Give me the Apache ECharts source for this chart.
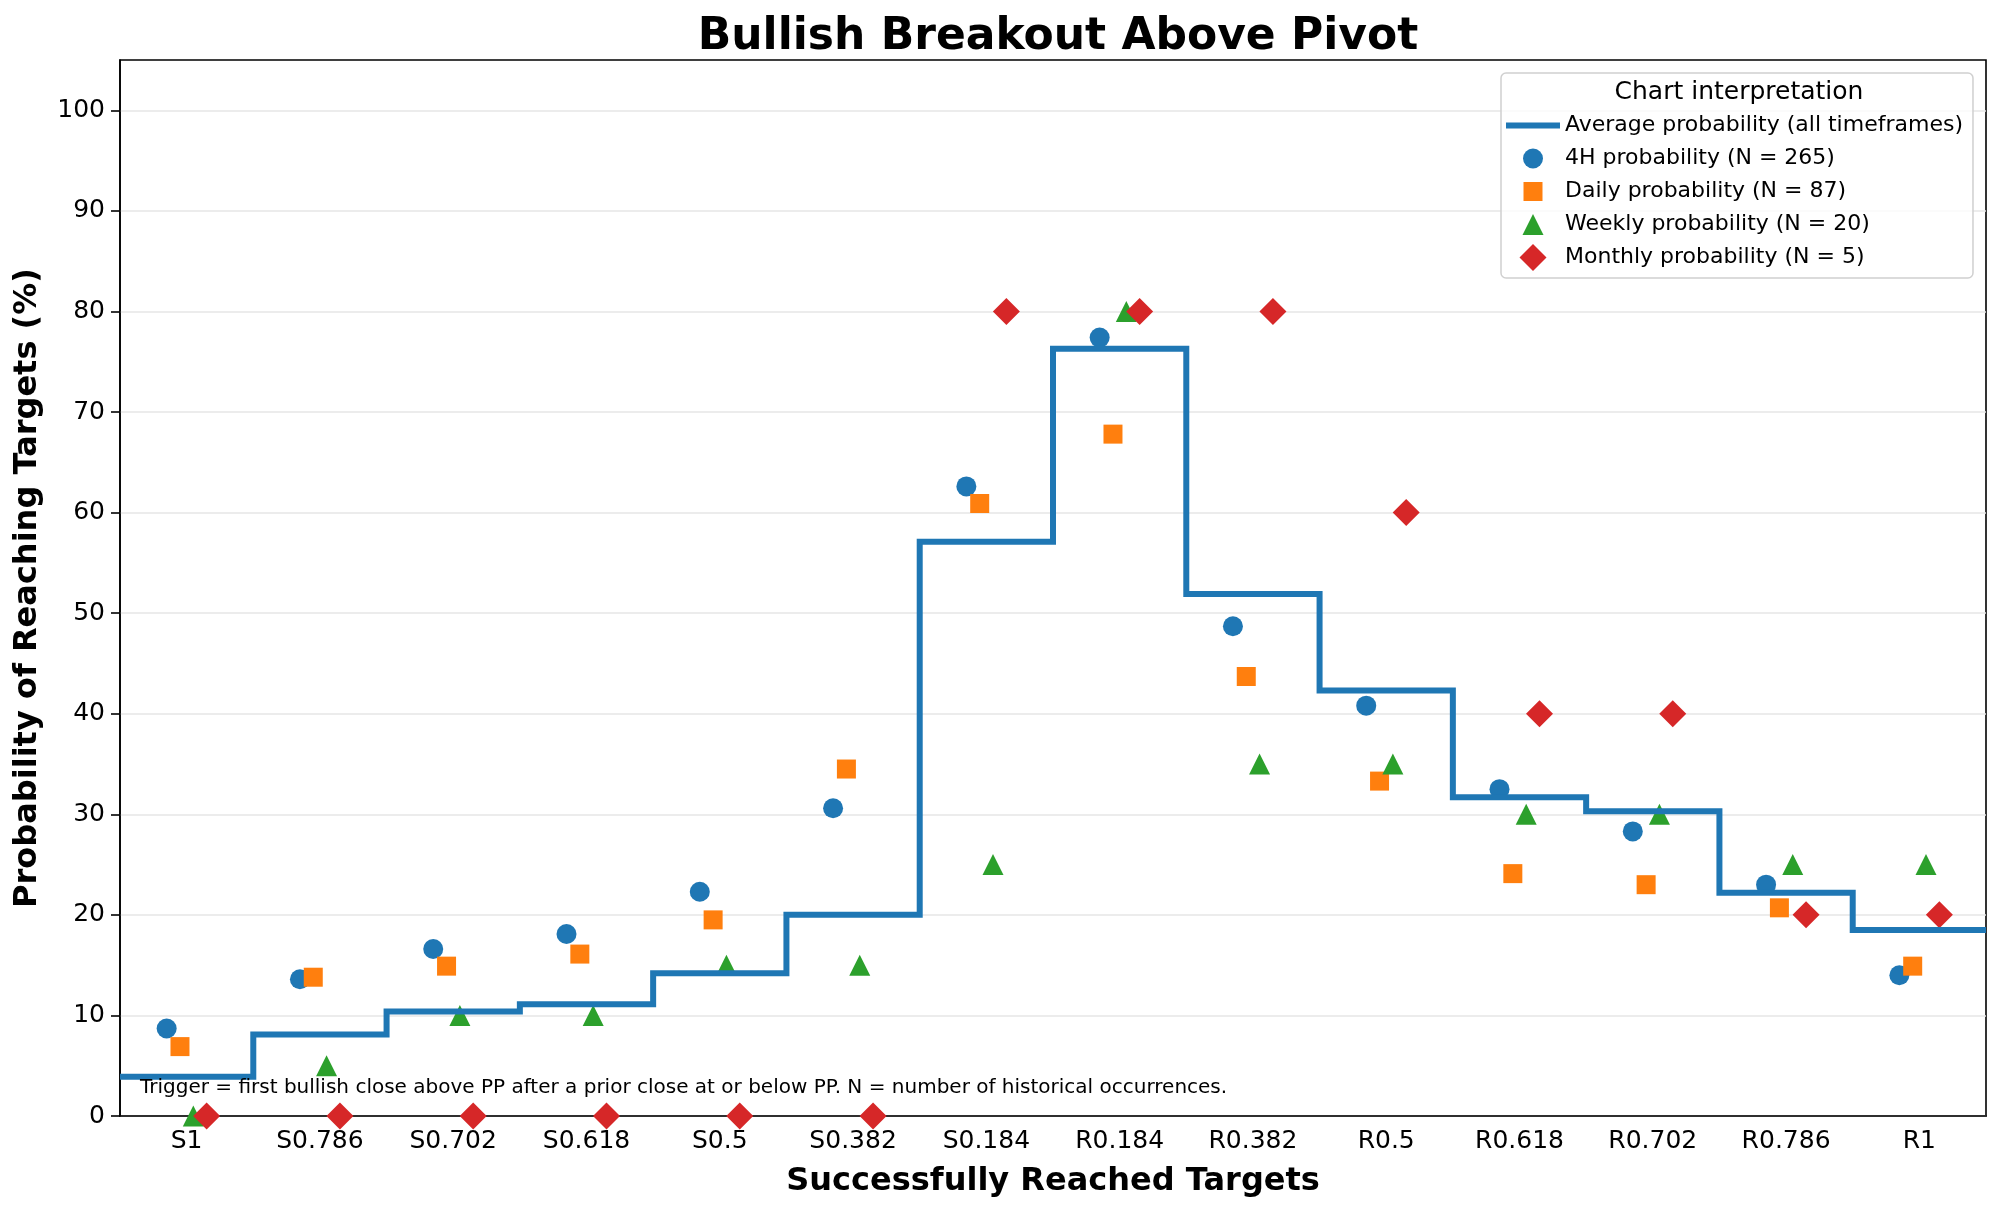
<!DOCTYPE html>
<html>
<head>
<meta charset="utf-8">
<script src="https://cdn.jsdelivr.net/npm/echarts@6/dist/echarts.min.js"></script>
<style>
  html, body { margin: 0; padding: 0; background: #fff; }
  #chart { width: 2000px; height: 1210px; }
</style>
</head>
<body>
<div id="chart"></div>
<script>
const targets = ['S1', 'S0.786', 'S0.702', 'S0.618', 'S0.5', 'S0.382', 'S0.184',
  'R0.184', 'R0.382', 'R0.5', 'R0.618', 'R0.702', 'R0.786', 'R1']
const avgProb = [3.9, 8.1, 10.4, 11.1, 14.2, 20.0, 57.1, 76.3, 51.9, 42.3, 31.7, 30.3, 22.2, 18.5]
const prob4h = [8.7, 13.6, 16.6, 18.1, 22.3, 30.6, 62.6, 77.4, 48.7, 40.8, 32.5, 28.3, 23.0, 14.0]
const probDaily = [6.9, 13.8, 14.9, 16.1, 19.5, 34.5, 60.9, 67.8, 43.7, 33.3, 24.1, 23.0, 20.7, 14.9]
const probWeekly = [0, 5, 10, 10, 15, 15, 25, 80, 35, 35, 30, 30, 25, 25]
const probMonthly = [0, 0, 0, 0, 0, 0, 80, 80, 80, 60, 40, 40, 20, 20]
const yTicks = [0, 10, 20, 30, 40, 50, 60, 70, 80, 90, 100]

const FONT = 'DejaVu Sans'
const chart = echarts.init(document.getElementById('chart'))

// step line spans each category from i-0.5 to i+0.5
const stepPoints = []
avgProb.forEach((v, i) => { stepPoints.push([i - 0.5, v], [i + 0.5, v]) })

const offsets = [-0.15, -0.05, 0.05, 0.15]
const shift = (arr, k) => arr.map((v, i) => [i + offsets[k], v])

const scatter = (name, arr, k, symbol, size, color) => ({
  name,
  type: 'scatter',
  xAxisIndex: 1,
  symbol,
  symbolSize: size,
  clip: true,
  z: 2,
  itemStyle: { color, opacity: 1 },
  data: shift(arr, k),
})

// legend icons: invisible moveTo corners keep every icon in the same 27px box
const pad = 'M-13.5,-13.5M13.5,13.5'
const icons = {
  line: 'path://M-27,-13.5M27,13.5M-27,-3L27,-3L27,3L-27,3Z',
  circle: 'path://' + pad + 'M10,0A10,10,0,1,1,-10,0A10,10,0,1,1,10,0Z',
  square: 'path://' + pad + 'M-9.5,-9.5L9.5,-9.5L9.5,9.5L-9.5,9.5Z',
  triangle: 'path://' + pad + 'M0,-10.5L10.5,10.5L-10.5,10.5Z',
  diamond: 'path://M0,-13.5L13.5,0L0,13.5L-13.5,0Z',
}

chart.setOption({
  animation: false,
  textStyle: { fontFamily: FONT },
  title: {
    text: 'Bullish Breakout Above Pivot',
    left: 1053,
    top: 11,
    textAlign: 'center',
    textStyle: { fontFamily: FONT, fontSize: 44, fontWeight: 'bold', color: '#000' },
  },
  grid: {
    left: 120, right: 14, top: 60, bottom: 94,
    show: true, borderColor: '#000', borderWidth: 1.6, backgroundColor: 'transparent',
  },
  legend: {
    orient: 'vertical',
    left: 1501,
    top: 73,
    padding: [39, 10, 7, 5],
    itemWidth: 54,
    itemHeight: 27,
    itemGap: 6,
    itemTextGap: 16,
    backgroundColor: 'rgba(255,255,255,0.8)',
    borderColor: '#d0d0d0',
    borderWidth: 1.5,
    borderRadius: 5,
    textStyle: { fontFamily: FONT, fontSize: 22, color: '#000' },
    data: [
      { name: 'Average probability (all timeframes)', icon: icons.line },
      { name: '4H probability (N = 265)', icon: icons.circle },
      { name: 'Daily probability (N = 87)', icon: icons.square },
      { name: 'Weekly probability (N = 20)', icon: icons.triangle },
      { name: 'Monthly probability (N = 5)', icon: icons.diamond },
    ],
  },
  graphic: [
    {
      type: 'text',
      x: 1739,
      y: 92,
      z: 10,
      style: {
        text: 'Chart interpretation', font: '25px "DejaVu Sans"', fill: '#000',
        align: 'center', verticalAlign: 'middle',
      },
    },
    {
      type: 'text',
      left: 140,
      top: 1078,
      z: 10,
      style: {
        text: 'Trigger = first bullish close above PP after a prior close at or below PP. N = number of historical occurrences.',
        font: '20px "DejaVu Sans"',
        fill: '#000',
      },
    },
  ],
  xAxis: [
    {
      type: 'category',
      data: targets,
      boundaryGap: true,
      name: 'Successfully Reached Targets',
      nameLocation: 'middle',
      nameGap: 50,
      nameTextStyle: { fontFamily: FONT, fontSize: 32, fontWeight: 'bold', color: '#000' },
      axisLine: { lineStyle: { color: '#000', width: 1.6 } },
      axisTick: { alignWithLabel: true, length: 9, lineStyle: { color: '#000', width: 1.6 } },
      axisLabel: { fontFamily: FONT, fontSize: 25, color: '#000', margin: 13, interval: 0 },
      splitLine: { show: false },
    },
    {
      type: 'value',
      min: -0.5,
      max: 13.5,
      show: false,
      splitLine: { show: false },
    },
  ],
  yAxis: {
    type: 'value',
    min: 0,
    max: 105,
    interval: 10,
    name: 'Probability of Reaching Targets (%)',
    nameLocation: 'middle',
    nameGap: 76,
    nameTextStyle: { fontFamily: FONT, fontSize: 32, fontWeight: 'bold', color: '#000' },
    axisLine: { show: true, onZero: false, lineStyle: { color: '#000', width: 1.6 } },
    axisTick: { show: true, length: 9, customValues: yTicks, lineStyle: { color: '#000', width: 1.6 } },
    axisLabel: { fontFamily: FONT, fontSize: 25, color: '#000', margin: 15, customValues: yTicks },
    splitLine: { lineStyle: { color: '#e6e6e6', width: 1.5 } },
  },
  series: [
    {
      name: 'Average probability (all timeframes)',
      type: 'line',
      xAxisIndex: 1,
      data: stepPoints,
      showSymbol: false,
      symbol: 'none',
      z: 3,
      lineStyle: { color: '#1f77b4', width: 6, join: 'miter', cap: 'butt' },
      itemStyle: { color: '#1f77b4' },
    },
    scatter('4H probability (N = 265)', prob4h, 0, 'circle', 20, '#1f77b4'),
    scatter('Daily probability (N = 87)', probDaily, 1, 'rect', 19, '#ff7f0e'),
    scatter('Weekly probability (N = 20)', probWeekly, 2, 'triangle', 21, '#2ca02c'),
    scatter('Monthly probability (N = 5)', probMonthly, 3, 'diamond', 27, '#d62728'),
  ],
})
</script>
</body>
</html>
